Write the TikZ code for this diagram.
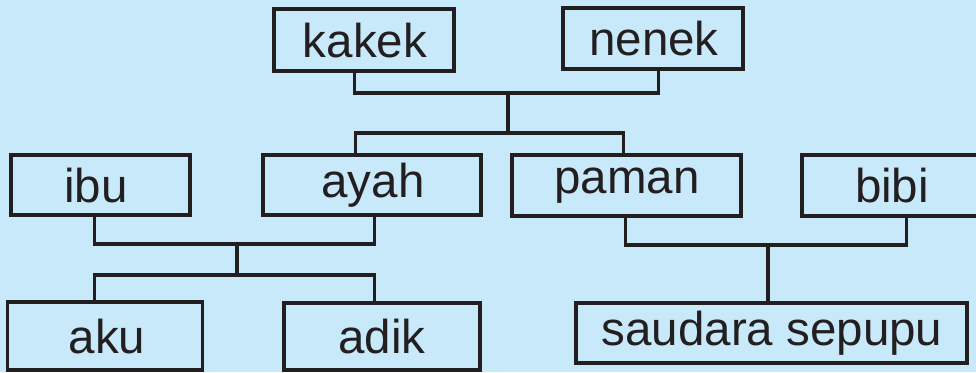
\documentclass[tikz,border=0pt]{standalone}
\usepackage{fontspec}
\setmainfont{Liberation Sans}
\usetikzlibrary{calc}
\definecolor{bgblue}{RGB}{199,233,249}
\definecolor{ink}{RGB}{35,31,32}
\tikzset{
  box/.style={draw=ink, line width=3.3pt, rectangle, inner sep=0pt},
  lbl/.style={anchor=base, inner sep=0pt, text=ink, font=\fontsize{47.5}{50}\selectfont},
  link/.style={draw=ink, line width=3.3pt}
}
\begin{document}
\begin{tikzpicture}[x=1pt,y=-1pt]
\useasboundingbox (0,0) rectangle (976,372);
\clip (0,0) rectangle (976,372);
\fill[bgblue] (0,0) rectangle (976,372);
% boxes
\node[box, minimum width=180pt, minimum height=62pt] (kakek) at (364,40) {};
\node[box, minimum width=180pt, minimum height=61pt] (nenek) at (653,38.5) {};
\node[box, minimum width=179pt, minimum height=60pt] (ibu) at (100.5,185) {};
\node[box, minimum width=218pt, minimum height=60pt] (ayah) at (372,185) {};
\node[box, minimum width=229pt, minimum height=61pt] (paman) at (626.5,185.5) {};
\node[box, minimum width=188pt, minimum height=61pt] (bibi) at (896,185.5) {};
\node[box, minimum width=195pt, minimum height=68pt] (aku) at (105,336) {};
\node[box, minimum width=196pt, minimum height=67pt] (adik) at (382,336.5) {};
\node[box, minimum width=391pt, minimum height=60pt] (sepupu) at (771.5,333) {};
% labels
\node[lbl] (tkakek) at (365,57) {kakek};
\node[lbl] (tnenek) at (654,55) {nenek};
\node[lbl] (tibu) at (96,202) {ibu};
\node[lbl] (tayah) at (373,197) {ayah};
\node[lbl] (tpaman) at (627,193) {paman};
\node[lbl] (tbibi) at (892,202) {bibi};
\node[lbl] (taku) at (107,353) {aku};
\node[lbl] (tadik) at (382,353) {adik};
\node[lbl] (tsepupu) at (772,345) {saudara sepupu};
% junctions
\coordinate (j1) at (508,93);
\coordinate (j1b) at (508,133);
\coordinate (j2) at (237,244);
\coordinate (j2b) at (237,275);
\coordinate (j3) at (768,245);
% connectors
\draw[link] ([xshift=82pt]kakek.south west) |- (j1) -| ([xshift=97pt]nenek.south west);
\draw[link] (j1) -- (j1b);
\draw[link] ([xshift=94pt]ayah.north west) |- (j1b) -| ([xshift=113pt]paman.north west);
\draw[link] ([xshift=85pt]ibu.south west) |- (j2) -| ([xshift=113pt]ayah.south west);
\draw[link] (j2) -- (j2b);
\draw[link] ([xshift=88.5pt]aku.north west) |- (j2b) -| ([xshift=92pt]adik.north west);
\draw[link] ([xshift=115pt]paman.south west) |- (j3) -| ([xshift=106pt]bibi.south west);
\draw[link] (j3) -- (sepupu.north -| j3);
\end{tikzpicture}
\end{document}
